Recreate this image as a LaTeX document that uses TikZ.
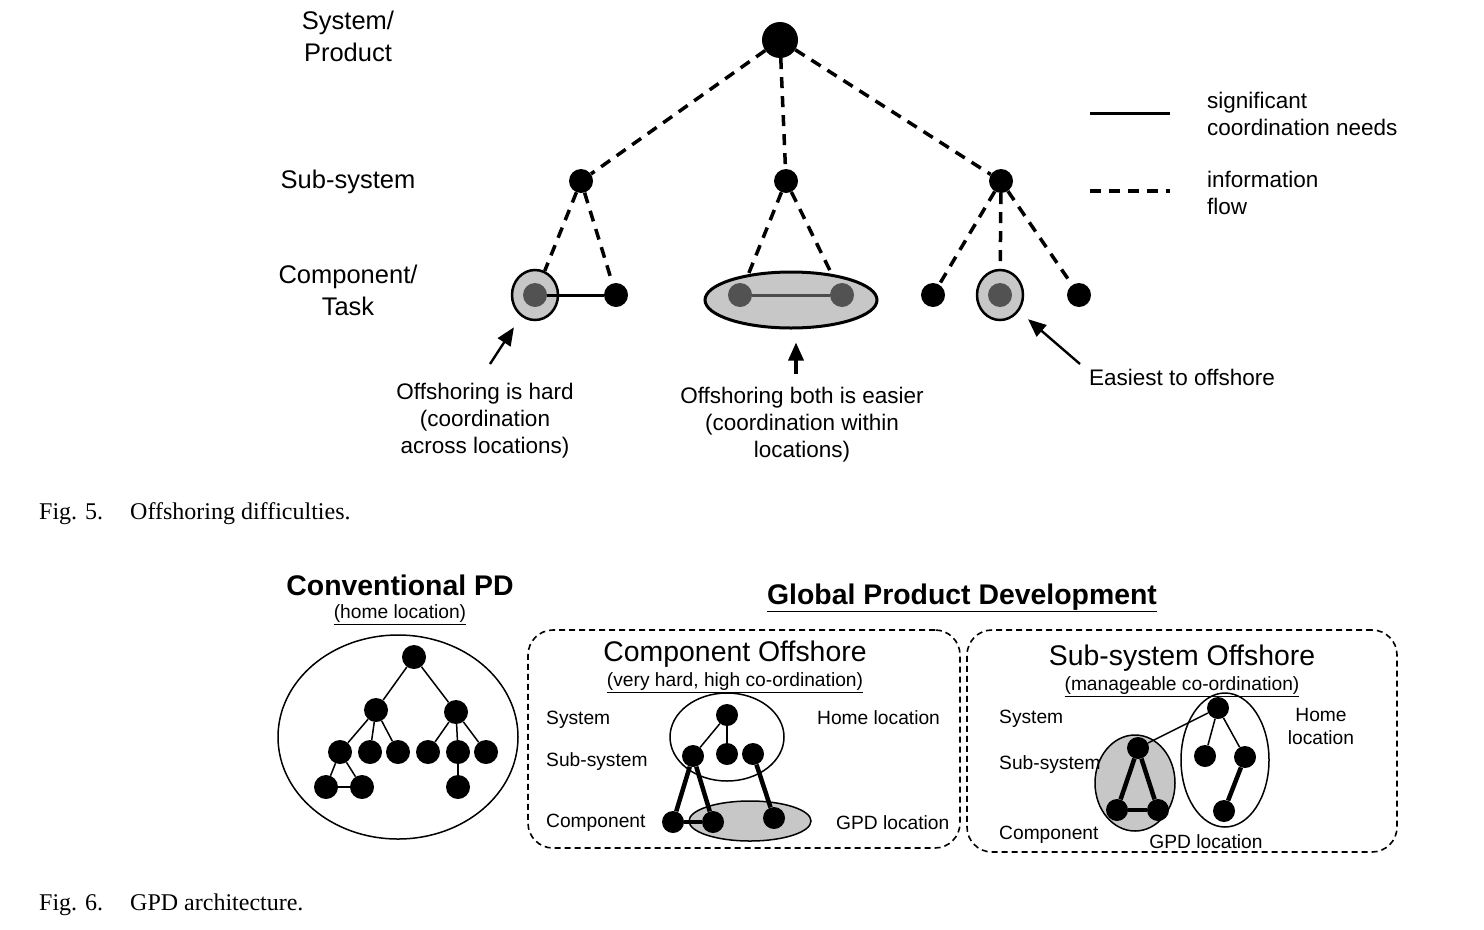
\documentclass[tikz,border=0pt]{standalone}
\usepackage{fontspec}
\setmainfont{Liberation Sans}
\newfontfamily\capserif{Liberation Serif}
\usetikzlibrary{arrows.meta,shapes.geometric}
\pgfdeclarelayer{lnlayer}
\pgfdeclarelayer{elllayer}
\pgfsetlayers{lnlayer,elllayer,main}
\newcommand\fsLab{\fontsize{25.5bp}{32bp}\selectfont}
\newcommand\fsTxt{\fontsize{22.5bp}{27bp}\selectfont}
\newcommand\fsBig{\fontsize{28.4bp}{32bp}\selectfont}
\newcommand\fsSml{\fontsize{19.2bp}{23bp}\selectfont}
\newcommand\fsCap{\capserif\fontsize{24bp}{28bp}\selectfont}
\begin{document}
\begin{tikzpicture}[x=1bp,y=-1bp,
  dot/.style={circle,fill=black,inner sep=0pt,minimum size=24bp},
  bdot/.style={circle,fill=black,inner sep=0pt,minimum size=22bp},
  gdot/.style={circle,fill=black!68,inner sep=0pt,minimum size=24bp},
  ring/.style={ellipse,draw,line width=2.5bp,fill=black!22,inner sep=0pt,minimum width=46bp,minimum height=50bp},
  info/.style={line width=3.5bp,dash pattern=on 11bp off 8bp},
  coordln/.style={line width=3bp},
  thinln/.style={line width=1.5bp},
  thickln/.style={line width=4.5bp},
  callout/.style={line width=2.4bp,-{Triangle[length=18bp 0 0,width=15bp 0 0]}},
  txt/.style={inner sep=0pt,align=center,font=\fsTxt},
  lab/.style={inner sep=0pt,align=center,font=\fsLab},
  smltxt/.style={inner sep=0pt,font=\fsSml},
  bigtxt/.style={inner sep=0pt,font=\fsBig},
  captxt/.style={inner sep=0pt,anchor=base west,font=\fsCap},
  gbox/.style={draw,rounded corners=25bp,line width=1.6bp,dash pattern=on 6bp off 4bp,inner sep=0pt},
  homeell/.style={ellipse,draw,line width=1.5bp,inner sep=0pt},
  gpdell/.style={ellipse,draw,line width=1.5bp,fill=black!22,inner sep=0pt}]
\useasboundingbox (0,0) rectangle (1484,929);

% ---------------- Fig. 5 ----------------
\node[lab] (lsys) at (348,36) {System/\\Product};
\node[lab] (lsub) at (348,182) {Sub-system};
\node[lab] (lcomp) at (348,290) {Component/\\Task};

\node[dot,minimum size=36bp] (root) at (780,40) {};
\node[dot] (s1) at (581,181) {};
\node[dot] (s2) at (786,181) {};
\node[dot] (s3) at (1001,181) {};

\begin{pgfonlayer}{elllayer}
\node[ring] (ringL) at (535,295) {};
\node[ellipse,draw,line width=3bp,fill=black!22,inner sep=0pt,minimum width=172bp,minimum height=56bp] (mell) at (791,300) {};
\node[ring] (ringR) at (1000,295) {};
\end{pgfonlayer}

\node[gdot] (cL1) at (535,295) {};
\node[dot] (cL2) at (616,295) {};
\node[gdot] (cM1) at (740,295) {};
\node[gdot] (cM2) at (842,295) {};
\node[dot] (cR1) at (933,295) {};
\node[gdot] (cR2) at (1000,295) {};
\node[dot] (cR3) at (1079,295) {};

\begin{pgfonlayer}{lnlayer}
\draw[info] (root) -- (s1);
\draw[info] (root) -- (s2);
\draw[info] (root) -- (s3);
\draw[info] (s1) -- (ringL);
\draw[info] (s1) -- (cL2);
\draw[info] (s2) -- (cM1);
\draw[info] (s2) -- (cM2);
\draw[info] (s3) -- (cR1);
\draw[info] (s3) -- (ringR);
\draw[info] (s3) -- (cR3);
\end{pgfonlayer}

\draw[coordln] (cL1) -- (cL2);
\draw[coordln,black!70] (cM1) -- (cM2);

% legend
\coordinate (lg1a) at (1090,113);
\coordinate (lg1b) at (1170,113);
\coordinate (lg2a) at (1090,191);
\coordinate (lg2b) at (1170,191);
\draw[coordln] (lg1a) -- (lg1b);
\draw[info] (lg2a) -- (lg2b);
\node[txt,anchor=west,align=left] (lgt1) at (1207,113.5) {significant\\coordination needs};
\node[txt,anchor=west,align=left] (lgt2) at (1207,193) {information\\flow};

% callouts
\node[txt] (tL) at (485,421) {Offshoring is hard\\(coordination\\across locations)};
\node[txt] (tM) at (802,425) {Offshoring both is easier\\(coordination within\\locations)};
\node[txt] (tR) at (1182,377) {Easiest to offshore};
\coordinate (aL) at (490,364);
\coordinate (aM) at (796,374);
\coordinate (aR) at (1080,364);
\draw[callout,shorten >=13bp] (aL) -- (ringL);
\draw[callout,line width=3.4bp,shorten >=13bp] (aM) -- (mell.south -| aM);
\draw[callout,shorten >=12bp] (aR) -- (ringR);

\node[captxt] (cap5a) at (39,519) {Fig. 5.};
\node[captxt] (cap5b) at (130,519) {Offshoring difficulties.};

% ---------------- Fig. 6 ----------------
\node[bigtxt,font=\fsBig\bfseries] (tConv) at (400,585) {Conventional PD};
\node[smltxt] (tConvS) at (400,615) {\underline{(home location)}};
\node[bigtxt,font=\fsBig\bfseries] (tGPD) at (962,598) {\underline{Global Product Development}};

% conventional
\node[homeell,minimum width=240bp,minimum height=204bp] (convE) at (398,737) {};
\node[dot] (k0) at (414,657) {};
\node[dot] (k1) at (376,710) {};
\node[dot] (k2) at (456,712) {};
\node[dot] (k11) at (340,752) {};
\node[dot] (k12) at (370,752) {};
\node[dot] (k13) at (398,752) {};
\node[dot] (k21) at (428,752) {};
\node[dot] (k22) at (458,752) {};
\node[dot] (k23) at (486,752) {};
\node[dot] (k111) at (326,787) {};
\node[dot] (k112) at (362,787) {};
\node[dot] (k221) at (458,787) {};
\draw[thinln] (k0) -- (k1);
\draw[thinln] (k0) -- (k2);
\draw[thinln] (k1) -- (k11);
\draw[thinln] (k1) -- (k12);
\draw[thinln] (k1) -- (k13);
\draw[thinln] (k2) -- (k21);
\draw[thinln] (k2) -- (k22);
\draw[thinln] (k2) -- (k23);
\draw[thinln] (k11) -- (k111);
\draw[thinln] (k11) -- (k112);
\draw[thinln] (k111) -- (k112);
\draw[thinln] (k22) -- (k221);

% component offshore
\node[gbox,minimum width=432bp,minimum height=218bp] (box1) at (744,739) {};
\node[bigtxt] (tCO) at (735,654) {Component Offshore};
\node[smltxt] (tCOs) at (735,683) {\underline{(very hard, high co-ordination)}};
\node[smltxt,anchor=west] (c1sys) at (546,720) {System};
\node[smltxt,anchor=west] (c1sub) at (546,762) {Sub-system};
\node[smltxt,anchor=west] (c1comp) at (546,823) {Component};
\node[smltxt,anchor=west] (c1home) at (817,718) {Home location};
\node[smltxt,anchor=west] (c1gpd) at (836,823) {GPD location};
\begin{pgfonlayer}{elllayer}
\node[homeell,minimum width=114bp,minimum height=88bp] (c1H) at (727,737) {};
\node[gpdell,minimum width=122bp,minimum height=40bp] (c1G) at (750,821) {};
\end{pgfonlayer}
\node[bdot] (p0) at (727,715) {};
\node[bdot] (p1) at (693,756) {};
\node[bdot] (p2) at (727,754) {};
\node[bdot] (p3) at (753,754) {};
\node[bdot] (q1) at (673,822) {};
\node[bdot] (q2) at (713,822) {};
\node[bdot] (q3) at (774,818) {};
\draw[thinln] (p0) -- (p1);
\draw[thinln] (p0) -- (p2);
\draw[thickln] (p1) -- (q1);
\draw[thickln] (p1) -- (q2);
\draw[thickln] (p3) -- (q3);
\draw[thickln] (q1) -- (q2);

% sub-system offshore
\node[gbox,minimum width=430bp,minimum height=222bp] (box2) at (1182,741) {};
\node[bigtxt] (tSO) at (1182,658) {Sub-system Offshore};
\node[smltxt] (tSOs) at (1182,687) {\underline{(manageable co-ordination)}};
\node[smltxt,anchor=west] (c2sys) at (999,719) {System};
\node[smltxt,anchor=west] (c2sub) at (999,765) {Sub-system};
\node[smltxt,anchor=west] (c2comp) at (999,835) {Component};
\node[smltxt,align=center] (c2home) at (1321,726) {Home\\location};
\node[smltxt] (c2gpd) at (1206,842) {GPD location};
\begin{pgfonlayer}{elllayer}
\node[gpdell,minimum width=80bp,minimum height=96bp] (c2G) at (1135,783) {};
\node[homeell,minimum width=88bp,minimum height=134bp] (c2H) at (1225,760) {};
\end{pgfonlayer}
\node[bdot] (u0) at (1218,708) {};
\node[bdot] (u1) at (1205,756) {};
\node[bdot] (u2) at (1245,757) {};
\node[bdot] (u3) at (1224,811) {};
\node[bdot] (v0) at (1138,748) {};
\node[bdot] (v1) at (1117,810) {};
\node[bdot] (v2) at (1158,810) {};
\draw[thinln] (u0) -- (u1);
\draw[thinln] (u0) -- (u2);
\draw[thinln] (u0) -- (v0);
\draw[thickln] (u2) -- (u3);
\draw[thickln] (v0) -- (v1);
\draw[thickln] (v0) -- (v2);
\draw[thickln] (v1) -- (v2);

\node[captxt] (cap6a) at (39,910) {Fig. 6.};
\node[captxt] (cap6b) at (130,910) {GPD architecture.};
\end{tikzpicture}
\end{document}
